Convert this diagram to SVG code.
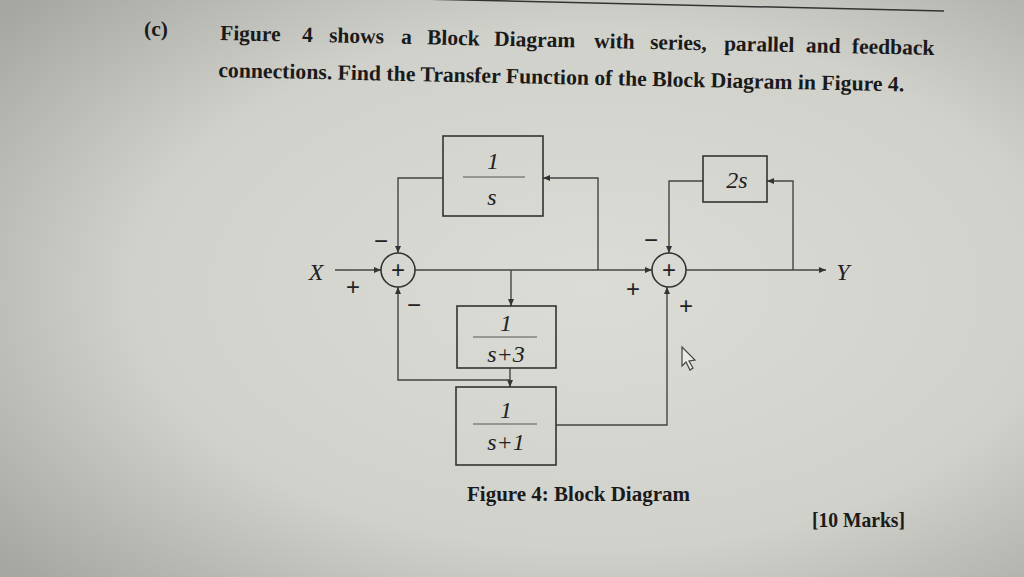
<svg xmlns="http://www.w3.org/2000/svg" width="1024" height="577" viewBox="0 0 1024 577">
<defs>
<radialGradient id="bg" cx="0.58" cy="0.5" r="0.75">
<stop offset="0" stop-color="#dcdcd6"/>
<stop offset="0.6" stop-color="#d1d1cb"/>
<stop offset="1" stop-color="#a6a6a0"/>
</radialGradient>
<marker id="ah" markerWidth="8" markerHeight="8" refX="7" refY="4" orient="auto" markerUnits="userSpaceOnUse">
<path d="M0,1 L7,4 L0,7 Z" fill="#333"/>
</marker>
<style>
.q{font-family:"Liberation Serif",serif;font-weight:bold;font-size:21.5px;fill:#1a1a1a}
.cap{font-family:"Liberation Serif",serif;font-weight:bold;font-size:20px;fill:#1a1a1a}
.m{font-family:"Liberation Serif",serif;font-style:italic;font-size:24px;fill:#222;text-anchor:middle}
.sg{font-family:"Liberation Sans",sans-serif;font-size:24px;fill:#222;text-anchor:middle}
.blk{fill:none;stroke:#333;stroke-width:1.6}
.fr{stroke:#555;stroke-width:1.2}
.con path{fill:none;stroke:#444;stroke-width:1.4}
.arr{marker-end:url(#ah)}
</style>
</defs>
<rect width="1024" height="577" fill="url(#bg)"/>
<path d="M420,-1 L944,11" stroke="#333" stroke-width="1.5" fill="none"/>

<g id="question">
<text class="q" x="144" y="36" font-weight="normal">(c)</text>
<g transform="rotate(1.2 219 40)">
<text class="q" y="40"><tspan x="220">Figure</tspan><tspan x="302">4</tspan><tspan x="329">shows</tspan><tspan x="401">a</tspan><tspan x="427">Block</tspan><tspan x="494">Diagram</tspan><tspan x="594">with</tspan><tspan x="650">series,</tspan><tspan x="724">parallel</tspan><tspan x="806">and</tspan><tspan x="852">feedback</tspan></text>
<text class="q" x="219" y="77" textLength="686" lengthAdjust="spacingAndGlyphs">connections. Find the Transfer Function of the Block Diagram in Figure 4.</text>
</g>
</g>

<g class="con" id="connectors">
<path class="arr" d="M335,270 H381"/>
<path class="arr" d="M415,270 H652"/>
<path class="arr" d="M686,270 H826"/>
<path class="arr" d="M598,270 V178 H543"/>
<path class="arr" d="M443,178 H398 V253"/>
<path class="arr" d="M511,270 V306"/>
<path class="arr" d="M510,368 V387"/>
<path class="arr" d="M510,380 H398 V287"/>
<path class="arr" d="M556,425 H667 V287"/>
<path class="arr" d="M793,270 V181 H767"/>
<path class="arr" d="M703,181 H669 V253"/>
</g>

<g id="input">
<text class="m" x="316" y="280" font-size="28">X</text>
</g>
<g id="output">
<text class="m" x="843" y="280" font-size="24">Y</text>
</g>

<g id="sum1">
<circle cx="398" cy="270" r="17" class="blk"/>
<text class="sg" x="398" y="278">+</text>
<text class="sg" x="353" y="295">+</text>
<text class="sg" x="381" y="249">−</text>
<text class="sg" x="414" y="313">−</text>
</g>

<g id="sum2">
<circle cx="669" cy="270" r="17" class="blk"/>
<text class="sg" x="669" y="278">+</text>
<text class="sg" x="633" y="297">+</text>
<text class="sg" x="651" y="248">−</text>
<text class="sg" x="686" y="314">+</text>
</g>

<g id="block_1_s">
<rect x="443" y="136" width="100" height="80" class="blk"/>
<text class="m" x="493" y="169">1</text>
<line x1="463" y1="177" x2="525" y2="177" class="fr"/>
<text class="m" x="492" y="205">s</text>
</g>

<g id="block_2s">
<rect x="703" y="156" width="64" height="46" class="blk"/>
<text class="m" x="737" y="188">2s</text>
</g>

<g id="block_1_s3">
<rect x="457" y="306" width="99" height="62" class="blk"/>
<text class="m" x="506" y="331">1</text>
<line x1="473" y1="337" x2="537" y2="337" class="fr"/>
<text class="m" x="506" y="362">s+3</text>
</g>

<g id="block_1_s1">
<rect x="456" y="387" width="100" height="78" class="blk"/>
<text class="m" x="506" y="418">1</text>
<line x1="473" y1="424" x2="537" y2="424" class="fr"/>
<text class="m" x="506" y="450">s+1</text>
</g>

<path d="M682,347 L682,366 L686,362 L690,370 L693,368 L689,361 L695,360 Z" fill="#e8e8e4" stroke="#444" stroke-width="1.2"/>

<g id="caption">
<text class="cap" x="467" y="501" textLength="223" lengthAdjust="spacingAndGlyphs">Figure 4:  Block Diagram</text>
<text class="q" x="812" y="527" font-size="19" textLength="93" lengthAdjust="spacingAndGlyphs">[10 Marks]</text>
</g>
</svg>
